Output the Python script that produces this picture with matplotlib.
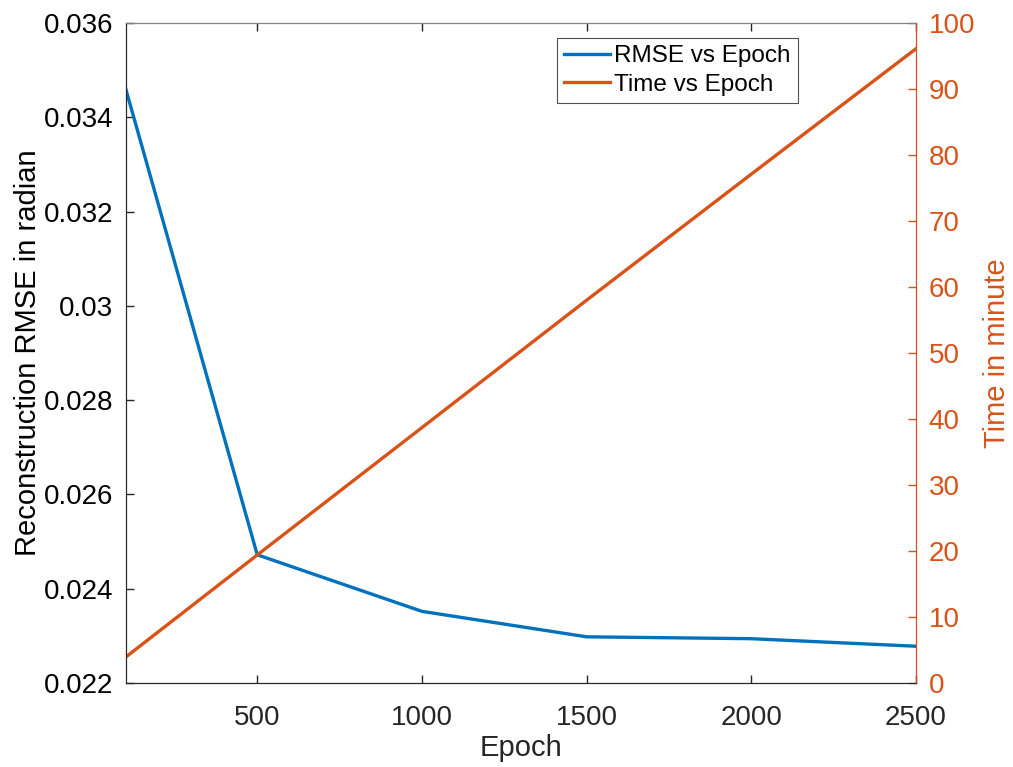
import matplotlib.pyplot as plt
import numpy as np

plt.rcParams['font.family'] = ['Liberation Sans', 'DejaVu Sans']

# training runs
epochs = [100, 500, 1000, 1500, 2000, 2500]
rmse = [0.03462, 0.02472, 0.02352, 0.02298, 0.02294, 0.02278]
time_min = [3.9, 19.4, 38.7, 58.0, 77.1, 96.1]

blue = '#0072BD'
orange = '#D95319'
dark = '#262626'

fig = plt.figure(figsize=(10.13, 7.67), dpi=100)
ax = fig.add_axes([0.1239, 0.1095, 0.9042 - 0.1239, 0.970 - 0.1095])
ax2 = ax.twinx()

l1, = ax.plot(epochs, rmse, color=blue, lw=2.4, label='RMSE vs Epoch')
l2, = ax2.plot(epochs, time_min, color=orange, lw=2.4, label='Time vs Epoch')

ax.set_xlim(100, 2500)
ax.set_ylim(0.022, 0.036)
ax2.set_ylim(0, 100)
ax.set_xticks([500, 1000, 1500, 2000, 2500])
ax.set_yticks(np.arange(0.022, 0.0361, 0.002))
ax.set_yticklabels(['0.022', '0.024', '0.026', '0.028', '0.03', '0.032', '0.034', '0.036'])
ax2.set_yticks(np.arange(0, 101, 10))

ax.tick_params(axis='both', direction='in', length=6, width=1, labelsize=20,
               colors=dark, top=True, labelcolor='black')
ax.tick_params(axis='x', labelcolor=dark, pad=16)
ax.tick_params(axis='y', pad=9)
ax2.tick_params(axis='y', direction='in', length=6, width=1, labelsize=20,
                colors=orange, pad=9)

for side in ['left', 'bottom']:
    ax.spines[side].set_color(dark)
ax.spines['top'].set_color('#808080')
ax2.spines['top'].set_color('#808080')
ax2.spines['right'].set_color(orange)
ax2.spines['left'].set_color(dark)
ax2.spines['bottom'].set_color(dark)

ax.set_xlabel('Epoch', fontsize=21, color=dark, labelpad=2)
ax.set_ylabel('Reconstruction RMSE in radian', fontsize=21, color='black', labelpad=1)
ax2.set_ylabel('Time in minute', fontsize=21, color=orange, labelpad=6)

leg = ax2.legend(handles=[l1, l2], loc='upper center', bbox_to_anchor=(0.698, 0.977),
                 fontsize=17.5, frameon=True, fancybox=False, handlelength=1.9,
                 handletextpad=0.15, borderpad=0.3, labelspacing=0.25, borderaxespad=0)
leg.get_frame().set_edgecolor(dark)
leg.get_frame().set_linewidth(0.8)

fig.savefig('out.png', dpi=100)
